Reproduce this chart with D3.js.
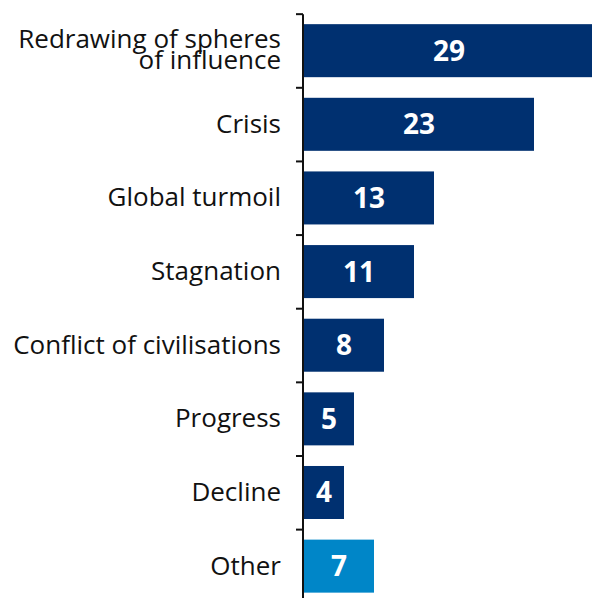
<!DOCTYPE html>
<html>
<head>
<meta charset="utf-8">
<script src="https://cdn.jsdelivr.net/npm/d3@7"></script>
<style>
  html, body { margin: 0; padding: 0; background: #fff; }
  svg { display: block; }
</style>
</head>
<body>
<svg id="chart" width="592" height="598"></svg>
<script>
// Survey answers, one bar each
const categories = [
  ["Redrawing of spheres", "of influence"],
  ["Crisis"],
  ["Global turmoil"],
  ["Stagnation"],
  ["Conflict of civilisations"],
  ["Progress"],
  ["Decline"],
  ["Other"]
];
const values = [29, 23, 13, 11, 8, 5, 4, 7];
const highlight = [false, false, false, false, false, false, false, true];

const W = 592, H = 598;
const axisX = 303;
const svg = d3.select("#chart");

const y = d3.scaleBand()
  .domain(d3.range(categories.length))
  .range([14, 14 + 8 * 73.6])
  .paddingInner(0.28)
  .paddingOuter(0.138);

const x = d3.scaleLinear()
  .domain([0, 29])
  .range([axisX + 1, axisX + 1 + 290]);

const navy = "#003070", blue = "#0086C8";
const fontFamily = "'Open Sans', 'Noto Sans', sans-serif";

// bars
svg.append("g").selectAll("rect")
  .data(values)
  .join("rect")
  .attr("x", x(0))
  .attr("y", (d, i) => y(i))
  .attr("width", d => x(d) - x(0))
  .attr("height", y.bandwidth())
  .attr("fill", (d, i) => highlight[i] ? blue : navy);

// value labels, centred in each bar
svg.append("g").selectAll("text")
  .data(values)
  .join("text")
  .attr("x", d => (x(0) + x(d)) / 2)
  .attr("y", (d, i) => y(i) + y.bandwidth() / 2 + 10)
  .attr("text-anchor", "middle")
  .attr("fill", "#fff")
  .attr("font-family", fontFamily)
  .attr("font-weight", 700)
  .attr("font-size", 28)
  .text(d => d);

// category axis: vertical line with ticks at band boundaries
const bandTop = i => y(i) - 10;
const axis = svg.append("g").attr("stroke", "#111");
axis.append("line")
  .attr("x1", axisX).attr("x2", axisX)
  .attr("y1", bandTop(0)).attr("y2", H)
  .attr("stroke-width", 2);
axis.selectAll("line.tick")
  .data(d3.range(categories.length))
  .join("line")
  .attr("class", "tick")
  .attr("x1", axisX - 7).attr("x2", axisX)
  .attr("y1", i => bandTop(i)).attr("y2", i => bandTop(i))
  .attr("stroke-width", 2);

// category labels
const labels = svg.append("g")
  .attr("font-family", fontFamily)
  .attr("font-size", 26)
  .attr("fill", "#111")
  .attr("text-anchor", "end");
categories.forEach((lines, i) => {
  const cy = y(i) + y.bandwidth() / 2;
  const t = labels.append("text");
  if (lines.length === 1) {
    t.append("tspan").attr("x", 281).attr("y", cy + 8.5).text(lines[0]);
  } else {
    t.append("tspan").attr("x", 281).attr("y", cy - 2.5).text(lines[0]);
    t.append("tspan").attr("x", 281).attr("y", cy + 18.5).text(lines[1]);
  }
});
</script>
</body>
</html>
